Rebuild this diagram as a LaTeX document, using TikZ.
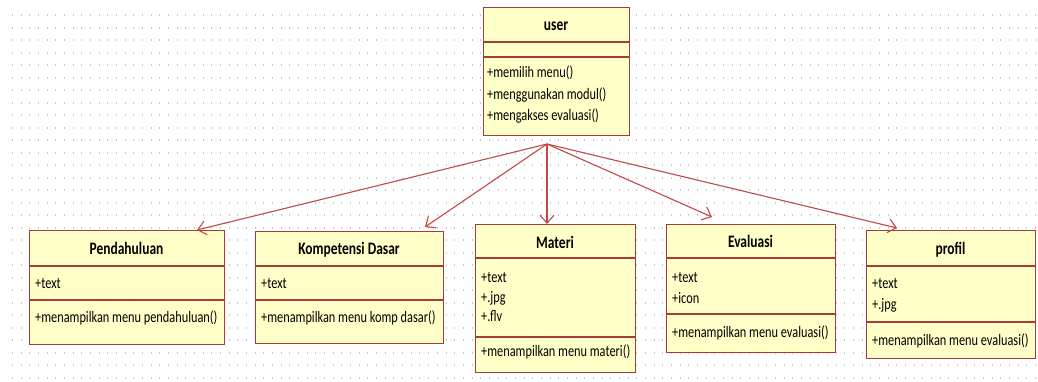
\documentclass[tikz,border=0pt]{standalone}
\usepackage{fontspec}
\setmainfont[FakeStretch=0.77]{Carlito}
\usetikzlibrary{arrows.meta}

\definecolor{umlfill}{RGB}{255,255,200}
\definecolor{umlline}{RGB}{168,58,58}
\definecolor{assoc}{RGB}{192,72,72}
\definecolor{griddot}{RGB}{200,200,200}

\tikzset{
  classbox/.style={draw=umlline, fill=umlfill, line width=1.4pt, inner sep=0pt, anchor=north west},
  compline/.style={draw=umlline, line width=1.4pt},
  classname/.style={font=\bfseries\fontsize{17.5}{20}\selectfont, inner sep=0pt, anchor=base},
  member/.style={font=\fontsize{16}{18}\selectfont, inner sep=0pt, anchor=base west},
  assocline/.style={draw=assoc, line width=1.1pt,
    -{Straight Barb[length=8pt,width=14pt,line width=1.1pt]}},
  gridrow/.style={draw=griddot, line width=2pt, dash pattern=on 1pt off 7.67pt},
}

\begin{document}
\begin{tikzpicture}[x=1pt, y=-1pt]
\useasboundingbox (0,0) rectangle (1038,381);

% dotted drawing grid
\foreach \r in {0,...,29} {
  \draw[gridrow] (12,15+12.5*\r) -- (1038,15+12.5*\r);
}

% ---- user ----
\node[classbox, minimum width=146pt, minimum height=128pt] (user) at (483,7) {};
\draw[compline] (483,42) -- (629,42);
\draw[compline] (483,57) -- (629,57);
\node[classname] (user-n) at (556,30) {user};
\node[member] (user-m1) at (487,77) {+memilih menu()};
\node[member] (user-m2) at (487,99) {+menggunakan modul()};
\node[member] (user-m3) at (487,120) {+mengakses evaluasi()};

% ---- Pendahuluan ----
\node[classbox, minimum width=195pt, minimum height=114pt] (pend) at (29,230) {};
\draw[compline] (29,266) -- (224,266);
\draw[compline] (29,300) -- (224,300);
\node[classname] (pend-n) at (126.5,254) {Pendahuluan};
\node[member] (pend-a1) at (35,288) {+text};
\node[member] (pend-m1) at (35,322) {+menampilkan menu pendahuluan()};

% ---- Kompetensi Dasar ----
\node[classbox, minimum width=188pt, minimum height=112pt] (komp) at (255,231) {};
\draw[compline] (255,266) -- (443,266);
\draw[compline] (255,300) -- (443,300);
\node[classname] (komp-n) at (349,254) {Kompetensi Dasar};
\node[member] (komp-a1) at (261,288) {+text};
\node[member] (komp-m1) at (261,322) {+menampilkan menu komp dasar()};

% ---- Materi ----
\node[classbox, minimum width=160pt, minimum height=148pt] (mat) at (475,224) {};
\draw[compline] (475,258) -- (635,258);
\draw[compline] (475,337) -- (635,337);
\node[classname] (mat-n) at (555,248) {Materi};
\node[member] (mat-a1) at (481,282) {+text};
\node[member] (mat-a2) at (481,302) {+.jpg};
\node[member] (mat-a3) at (481,321) {+.flv};
\node[member] (mat-m1) at (481,356) {+menampilkan menu materi()};

% ---- Evaluasi ----
\node[classbox, minimum width=169pt, minimum height=128pt] (eval) at (666,224) {};
\draw[compline] (666,258) -- (835,258);
\draw[compline] (666,314) -- (835,314);
\node[classname] (eval-n) at (750.5,247) {Evaluasi};
\node[member] (eval-a1) at (672,282) {+text};
\node[member] (eval-a2) at (672,303) {+icon};
\node[member] (eval-m1) at (672,337) {+menampilkan menu evaluasi()};

% ---- profil ----
\node[classbox, minimum width=169pt, minimum height=128pt] (prof) at (866,230) {};
\draw[compline] (866,266) -- (1035,266);
\draw[compline] (866,322) -- (1035,322);
\node[classname] (prof-n) at (950.5,254) {profil};
\node[member] (prof-a1) at (872,288) {+text};
\node[member] (prof-a2) at (872,309) {+.jpg};
\node[member] (prof-m1) at (872,345) {+menampilkan menu evaluasi()};

% ---- associations ----
\coordinate (hub) at (547,144);
\coordinate (pend-t) at (197,230);
\coordinate (komp-t) at (425,227);
\coordinate (mat-t) at (547,224);
\coordinate (eval-t) at (712,217);
\coordinate (prof-t) at (897,228);
\draw[assocline] (hub) -- (pend-t);
\draw[assocline] (hub) -- (komp-t);
\draw[assocline] (hub) -- (mat-t);
\draw[assocline] (hub) -- (eval-t);
\draw[assocline] (hub) -- (prof-t);
\end{tikzpicture}
\end{document}
